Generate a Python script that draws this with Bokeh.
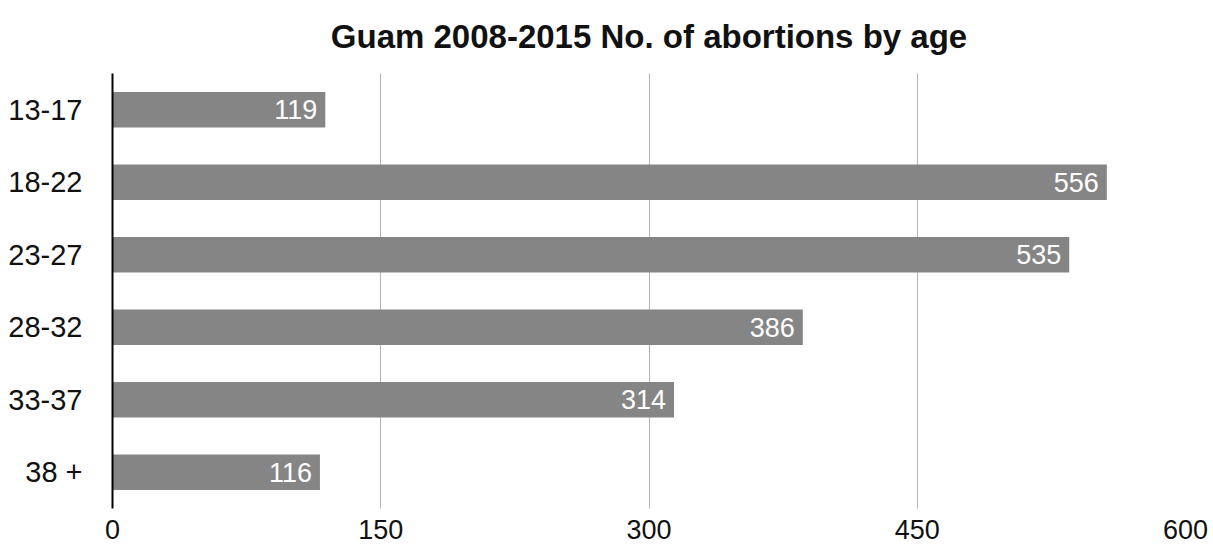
from bokeh.plotting import figure
from bokeh.models import ColumnDataSource, FactorRange, Range1d, FixedTicker
from bokeh.core.properties import value
from bokeh.embed import file_html
from bokeh.resources import INLINE

age_groups = ["13-17", "18-22", "23-27", "28-32", "33-37", "38 +"]
abortions = [119, 556, 535, 386, 314, 116]
x_ticks = [0, 150, 300, 450, 600]
title_text = "Guam 2008-2015 No. of abortions by age"

FONT = "Liberation Sans"

source = ColumnDataSource(data=dict(
    age=age_groups,
    count=abortions,
    label=[str(v) for v in abortions],
))

p = figure(
    width=1213, height=548,
    y_range=FactorRange(factors=list(reversed(age_groups))),
    x_range=Range1d(0, 600),
    output_backend="svg", toolbar_location=None,
    min_border_left=112, min_border_right=28, min_border_top=72, min_border_bottom=40,
)

p.title.text = title_text
p.title.align = "center"
p.title.vertical_align = "top"
p.title.text_font = FONT
p.title.text_font_size = "33px"
p.title.text_font_style = "bold"
p.title.text_color = "#111111"
p.title.standoff = 34

p.hbar(y="age", right="count", left=0, height=0.49, source=source,
       fill_color="#858585", line_color=None)

p.text(x="count", y="age", text="label", source=source,
       x_offset=-8, text_align="right", text_baseline="middle",
       text_color="white", text_font=value(FONT), text_font_size="27px")

p.outline_line_color = None
p.background_fill_color = "white"
p.border_fill_color = "white"

p.ygrid.grid_line_color = None
p.xgrid.ticker = FixedTicker(ticks=x_ticks)
p.xgrid.grid_line_color = "#666666"
p.xgrid.grid_line_dash = "1 1"
p.xgrid.grid_line_width = 1

p.xaxis.ticker = FixedTicker(ticks=x_ticks)
p.xaxis.axis_line_color = None
p.xaxis.major_tick_line_color = None
p.xaxis.minor_tick_line_color = None
p.xaxis.major_tick_out = 0
p.xaxis.major_tick_in = 0
p.xaxis.major_label_text_font = FONT
p.xaxis.major_label_text_font_size = "27px"
p.xaxis.major_label_text_color = "#111111"
p.xaxis.major_label_standoff = 11

p.yaxis.axis_line_color = "black"
p.yaxis.axis_line_width = 2
p.yaxis.major_tick_line_color = None
p.yaxis.major_tick_out = 0
p.yaxis.major_tick_in = 0
p.yaxis.major_label_text_font = FONT
p.yaxis.major_label_text_font_size = "29px"
p.yaxis.major_label_text_color = "#111111"
p.yaxis.major_label_standoff = 30

open("out.html", "w").write(file_html(p, INLINE))
